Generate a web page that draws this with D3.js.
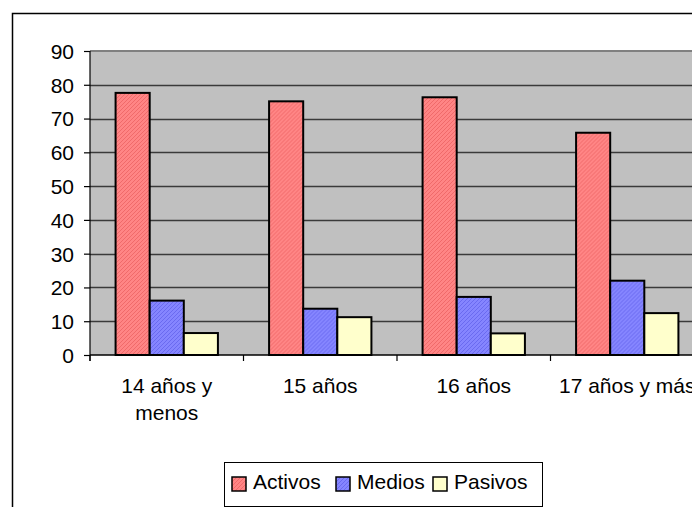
<!DOCTYPE html>
<html>
<head>
<meta charset="utf-8">
<script src="https://cdn.jsdelivr.net/npm/d3@7"></script>
<style>
  html, body { margin: 0; padding: 0; background: #fff; }
  svg { display: block; }
  text { font-family: "Liberation Sans", Arial, sans-serif; fill: #000; }
</style>
</head>
<body>
<svg id="chart" width="692" height="507"></svg>
<script>
// ---- data ----
const categories = [["14 años y", "menos"], ["15 años"], ["16 años"], ["17 años y más"]];
const seriesNames = ["Activos", "Medios", "Pasivos"];
const activos = [77.6, 75.1, 76.3, 65.8];
const medios  = [16.1, 13.7, 17.2, 22.0];
const pasivos = [6.5, 11.2, 6.4, 12.4];
const yTicks = [0, 10, 20, 30, 40, 50, 60, 70, 80, 90];

const seriesValues = [activos, medios, pasivos];
const seriesFill = ["url(#patRed)", "url(#patBlue)", "#FFFFCC"];

const svg = d3.select("#chart");
const W = 692, H = 507;
const plot = { left: 90, top: 51, right: 704, bottom: 355 };
const fontSize = 21;

// patterns
const defs = svg.append("defs");
function makePattern(id, a, b) {
  const p = defs.append("pattern").attr("id", id).attr("width", 4).attr("height", 4)
    .attr("patternUnits", "userSpaceOnUse");
  p.append("rect").attr("width", 4).attr("height", 4).attr("fill", a);
  [[0,0],[2,0],[1,1],[3,1],[0,2],[2,2],[1,3],[3,3]].forEach(([x,y], i) => {
    if ((x + y) % 4 === 0 || (x + 3*y) % 4 === 1)
      p.append("rect").attr("x", x).attr("y", y).attr("width", 1).attr("height", 1).attr("fill", b);
  });
}
makePattern("patRed", "#FF8585", "#F06A6A");
makePattern("patBlue", "#8585FF", "#6A6AF0");

// outer frame
svg.append("path")
  .attr("d", `M12.5,${H} L12.5,13.5 L${W},13.5`)
  .attr("fill", "none").attr("stroke", "#000").attr("stroke-width", 1.5);

// scales
const x0 = d3.scaleBand().domain(d3.range(categories.length))
  .range([plot.left, plot.right]).paddingInner(0).paddingOuter(0);
const x1 = d3.scaleBand().domain(d3.range(seriesNames.length))
  .range([0, x0.bandwidth()]).paddingInner(0).paddingOuter(0.75);
const y = d3.scaleLinear().domain([0, 90]).range([plot.bottom, plot.top]);

// plot background
svg.append("rect")
  .attr("x", plot.left).attr("y", plot.top)
  .attr("width", plot.right - plot.left).attr("height", plot.bottom - plot.top)
  .attr("fill", "#C0C0C0");

// gridlines
svg.append("g").selectAll("line").data(yTicks.filter(t => t > 0 && t < 90)).join("line")
  .attr("x1", plot.left).attr("x2", plot.right)
  .attr("y1", d => Math.round(y(d)) + 0.5).attr("y2", d => Math.round(y(d)) + 0.5)
  .attr("stroke", "#3a3a3a").attr("stroke-width", 1.6);
// top border
svg.append("line")
  .attr("x1", plot.left).attr("x2", plot.right)
  .attr("y1", plot.top).attr("y2", plot.top)
  .attr("stroke", "#808080").attr("stroke-width", 2);

// bars
const groups = svg.append("g").selectAll("g").data(categories).join("g")
  .attr("transform", (d, i) => `translate(${x0(i)},0)`);
groups.selectAll("rect")
  .data((d, i) => seriesValues.map((vals, s) => ({ s, v: vals[i] })))
  .join("rect")
  .attr("x", d => x1(d.s))
  .attr("y", d => y(d.v))
  .attr("width", x1.bandwidth())
  .attr("height", d => y(0) - y(d.v))
  .attr("fill", d => seriesFill[d.s])
  .attr("stroke", "#000").attr("stroke-width", 2);

// y axis
const yAxis = d3.axisLeft(y).tickValues(yTicks).tickSize(6).tickPadding(10);
const gy = svg.append("g").attr("transform", `translate(${plot.left},0)`).call(yAxis);
gy.select(".domain").remove();
gy.selectAll(".tick line").attr("stroke", "#000").attr("stroke-width", 1.2);
gy.selectAll(".tick text").attr("font-size", fontSize).attr("font-family", "Liberation Sans, Arial, sans-serif")
  .attr("fill", "#000").attr("dy", "0.35em");
svg.append("line").attr("x1", plot.left).attr("x2", plot.left)
  .attr("y1", plot.top).attr("y2", plot.bottom + 6)
  .attr("stroke", "#000").attr("stroke-width", 1.2);

// x axis
svg.append("line").attr("x1", plot.left).attr("x2", plot.right)
  .attr("y1", plot.bottom).attr("y2", plot.bottom)
  .attr("stroke", "#000").attr("stroke-width", 1.5);
svg.append("g").selectAll("line").data(d3.range(categories.length + 1)).join("line")
  .attr("x1", i => plot.left + i * x0.step()).attr("x2", i => plot.left + i * x0.step())
  .attr("y1", plot.bottom).attr("y2", plot.bottom + 6)
  .attr("stroke", "#000").attr("stroke-width", 1.2);

const labels = svg.append("g").selectAll("text").data(categories).join("text")
  .attr("x", (d, i) => x0(i) + x0.bandwidth() / 2)
  .attr("y", 393)
  .attr("text-anchor", "middle")
  .attr("font-size", fontSize);
labels.selectAll("tspan").data(d => d).join("tspan")
  .attr("x", function() { return this.parentNode.getAttribute("x"); })
  .attr("dy", (d, i) => i === 0 ? 0 : 27)
  .text(d => d);

// legend
const legend = svg.append("g");
legend.append("rect").attr("x", 224.5).attr("y", 462.5).attr("width", 318).attr("height", 44)
  .attr("fill", "#fff").attr("stroke", "#000").attr("stroke-width", 1);
const legX = [232, 336, 433];
const li = legend.selectAll("g.item").data(seriesNames).join("g").attr("class", "item")
  .attr("transform", (d, i) => `translate(${legX[i]},477)`);
li.append("rect").attr("width", 14).attr("height", 14)
  .attr("fill", (d, i) => seriesFill[i]).attr("stroke", "#000").attr("stroke-width", 1.5);
li.append("text").attr("x", 21).attr("y", 12).attr("font-size", fontSize).text(d => d);
</script>
</body>
</html>
